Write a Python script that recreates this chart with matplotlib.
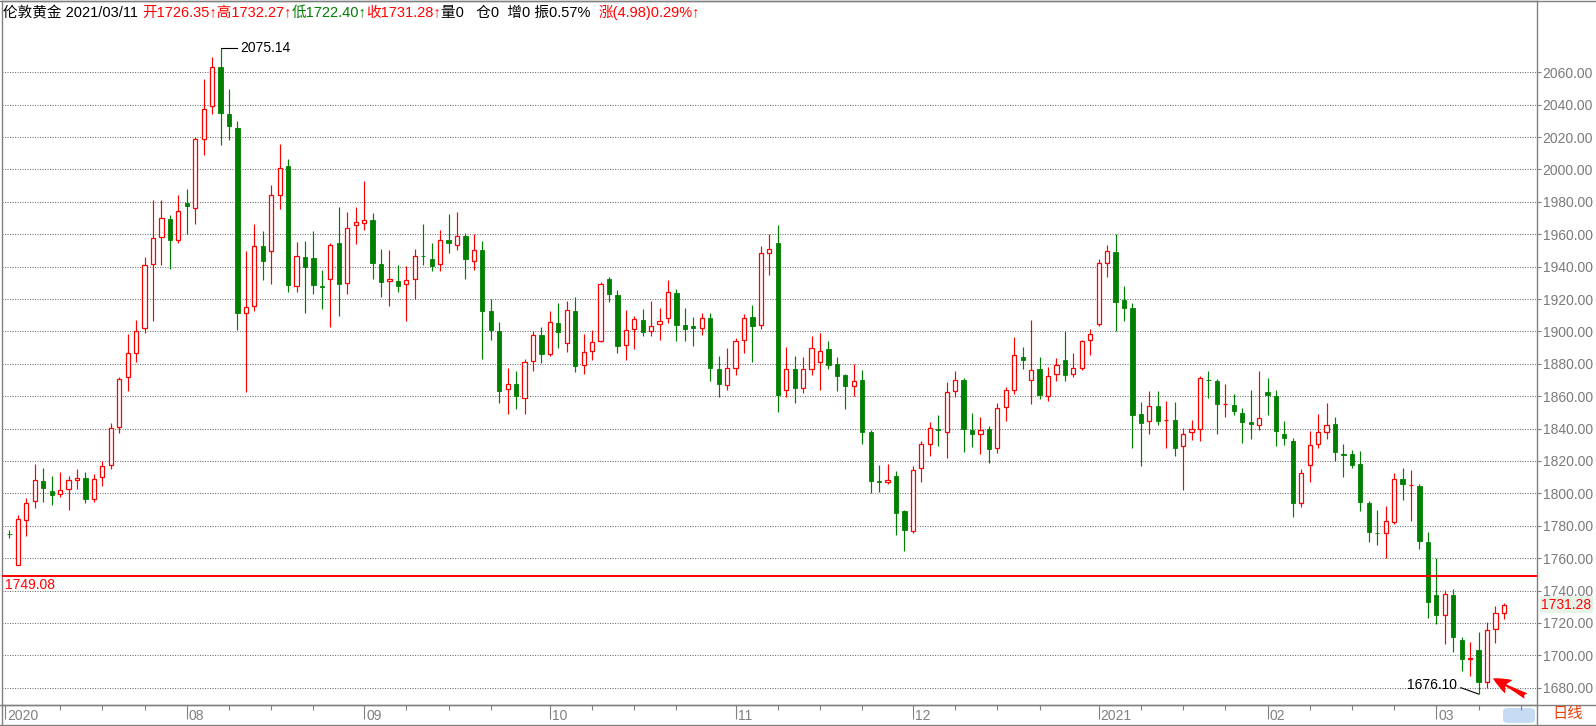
import numpy as np
import matplotlib.pyplot as plt
from matplotlib.offsetbox import TextArea, HPacker, AnchoredOffsetbox
from matplotlib.lines import Line2D
from matplotlib.patches import FancyBboxPatch
from matplotlib.ticker import FormatStrFormatter

plt.rcParams['font.family'] = ['Liberation Sans', 'Noto Sans CJK SC']

## London gold daily candles, 2020/07/03 -> 2021/03/11 (bar index 0..177)
open_ = [1775.0, 1755.6, 1783.4, 1795.2, 1807.5, 1801.4, 1799.5, 1802.7, 1808.1, 1809.4,
         1796.8, 1810.0, 1817.3, 1841.0, 1871.7, 1886.6, 1902.0, 1941.8, 1958.5, 1969.6,
         1956.7, 1979.2, 1976.5, 2018.6, 2039.0, 2063.1, 2034.2, 2025.6, 1911.3, 1915.7,
         1953.0, 1949.9, 1984.5, 2002.1, 1928.2, 1946.2, 1945.6, 1928.0, 1932.4, 1954.8,
         1930.1, 1966.0, 1967.2, 1969.1, 1941.9, 1931.1, 1930.9, 1929.5, 1932.4, 1946.8,
         1944.7, 1941.6, 1956.5, 1953.4, 1959.0, 1943.5, 1950.3, 1912.6, 1900.2, 1864.3,
         1867.4, 1858.8, 1881.6, 1897.7, 1886.0, 1905.2, 1892.8, 1912.6, 1879.2, 1887.8,
         1894.0, 1932.6, 1922.3, 1891.9, 1901.6, 1906.8, 1900.0, 1904.3, 1908.0, 1923.5,
         1903.7, 1903.1, 1901.8, 1908.0, 1876.5, 1867.2, 1877.1, 1895.0, 1908.7, 1903.7,
         1948.2, 1954.6, 1864.1, 1876.5, 1865.3, 1876.5, 1881.4, 1888.9, 1879.6, 1872.8,
         1866.6, 1870.3, 1838.1, 1807.5, 1807.0, 1810.9, 1789.3, 1776.9, 1815.9, 1830.7,
         1840.0, 1838.1, 1862.9, 1870.3, 1839.4, 1836.9, 1840.0, 1828.2, 1853.6, 1864.1,
         1884.5, 1869.7, 1876.5, 1860.4, 1873.4, 1882.1, 1873.4, 1877.7, 1894.4, 1904.3,
         1942.1, 1948.9, 1919.2, 1914.2, 1849.3, 1844.9, 1854.2, 1845.4, 1845.6, 1829.5,
         1838.1, 1840.0, 1870.0, 1869.5, 1855.0, 1854.8, 1849.9, 1844.3, 1842.3, 1862.3,
         1860.4, 1836.9, 1832.4, 1794.0, 1817.5, 1830.5, 1837.9, 1843.1, 1824.3, 1824.5,
         1818.1, 1794.2, 1775.8, 1775.5, 1782.1, 1808.9, 1805.0, 1804.3, 1769.7, 1737.5,
         1724.9, 1737.5, 1709.7, 1697.8, 1703.5, 1683.7, 1716.3, 1726.35]

high = [1777.4, 1786.6, 1797.0, 1818.4, 1815.6, 1810.6, 1813.0, 1810.6, 1815.0, 1813.0,
        1811.9, 1819.8, 1843.5, 1872.0, 1898.1, 1906.9, 1945.8, 1981.1, 1981.1, 1971.7,
        1984.1, 1987.8, 2019.8, 2056.0, 2069.5, 2075.14, 2049.7, 2029.9, 1949.5, 1966.2,
        1962.3, 1990.3, 2015.7, 2006.4, 1955.0, 1955.7, 1961.8, 1937.7, 1954.4, 1976.9,
        1973.6, 1976.9, 1992.8, 1973.0, 1950.7, 1950.1, 1941.2, 1940.6, 1950.9, 1966.6,
        1954.8, 1962.7, 1972.8, 1973.8, 1960.8, 1960.2, 1956.1, 1920.0, 1905.8, 1877.3,
        1875.5, 1883.1, 1900.2, 1902.9, 1912.8, 1917.7, 1919.0, 1921.2, 1898.3, 1900.8,
        1930.7, 1933.8, 1925.4, 1913.0, 1909.3, 1913.6, 1918.5, 1914.2, 1931.5, 1926.0,
        1914.2, 1908.7, 1911.1, 1911.1, 1885.1, 1889.5, 1895.7, 1910.9, 1916.1, 1952.8,
        1960.2, 1965.8, 1890.3, 1884.7, 1883.9, 1897.1, 1899.0, 1893.8, 1884.5, 1874.0,
        1879.8, 1875.9, 1839.0, 1817.7, 1818.3, 1814.0, 1790.0, 1817.1, 1832.6, 1843.9,
        1848.2, 1868.7, 1875.5, 1871.0, 1849.9, 1847.4, 1841.9, 1855.5, 1865.4, 1896.5,
        1890.3, 1907.0, 1884.1, 1878.3, 1883.3, 1900.0, 1886.4, 1894.4, 1901.4, 1944.5,
        1953.4, 1960.0, 1927.8, 1917.3, 1856.7, 1863.5, 1862.9, 1857.3, 1856.7, 1840.6,
        1845.6, 1872.2, 1875.3, 1870.9, 1867.8, 1861.6, 1853.0, 1864.1, 1875.3, 1871.5,
        1864.1, 1844.7, 1834.0, 1815.3, 1838.8, 1848.7, 1855.5, 1847.4, 1830.7, 1827.0,
        1826.4, 1795.0, 1789.9, 1792.0, 1812.6, 1815.9, 1814.4, 1805.8, 1776.1, 1760.0,
        1740.2, 1740.8, 1711.3, 1708.0, 1714.6, 1720.8, 1730.7, 1732.27]

low = [1772.2, 1755.6, 1773.4, 1791.2, 1794.9, 1793.1, 1797.5, 1789.9, 1802.5, 1794.3,
       1794.9, 1804.8, 1814.8, 1837.0, 1863.1, 1880.9, 1898.9, 1906.4, 1941.0, 1938.5,
       1954.4, 1960.2, 1966.5, 2009.2, 2034.4, 2015.3, 2018.3, 1900.8, 1862.5, 1912.6,
       1931.7, 1929.3, 1975.7, 1924.3, 1924.3, 1911.3, 1923.1, 1913.8, 1902.7, 1909.5,
       1923.1, 1954.2, 1962.7, 1932.4, 1921.2, 1915.7, 1924.3, 1906.2, 1920.0, 1941.2,
       1937.1, 1937.1, 1948.2, 1950.1, 1932.2, 1938.1, 1882.7, 1894.4, 1855.5, 1848.9,
       1852.4, 1848.9, 1875.3, 1880.6, 1884.7, 1889.5, 1887.0, 1874.8, 1873.6, 1882.1,
       1893.4, 1918.1, 1886.8, 1882.5, 1889.3, 1897.3, 1897.3, 1894.8, 1905.4, 1894.2,
       1894.2, 1891.1, 1897.9, 1869.5, 1859.2, 1863.9, 1873.2, 1886.8, 1881.2, 1901.6,
       1935.0, 1850.3, 1859.6, 1855.9, 1862.0, 1873.2, 1863.9, 1876.5, 1863.3, 1852.2,
       1860.2, 1830.5, 1800.4, 1800.6, 1805.8, 1774.2, 1764.3, 1775.5, 1807.0, 1823.1,
       1829.3, 1821.9, 1859.6, 1825.6, 1828.7, 1824.3, 1818.8, 1825.0, 1844.7, 1861.4,
       1876.9, 1855.2, 1858.3, 1857.1, 1869.5, 1869.5, 1872.0, 1876.3, 1885.6, 1903.1,
       1933.8, 1900.0, 1906.6, 1827.8, 1816.9, 1836.7, 1842.3, 1827.8, 1823.1, 1802.3,
       1833.0, 1832.4, 1858.6, 1836.5, 1847.0, 1848.2, 1830.9, 1833.4, 1839.0, 1848.2,
       1829.1, 1829.7, 1785.1, 1791.3, 1806.8, 1827.8, 1833.4, 1820.0, 1809.9, 1815.5,
       1788.9, 1769.7, 1768.4, 1760.0, 1780.8, 1795.7, 1782.9, 1765.8, 1723.3, 1719.6,
       1707.0, 1702.1, 1690.3, 1687.2, 1676.10, 1679.8, 1707.6, 1722.40]

close = [1774.6, 1784.1, 1793.9, 1808.1, 1803.1, 1798.7, 1802.1, 1808.1, 1809.4, 1796.8,
         1808.8, 1816.9, 1840.3, 1870.7, 1886.8, 1900.4, 1941.2, 1957.9, 1970.2, 1956.4,
         1974.6, 1977.2, 2018.6, 2037.2, 2063.1, 2035.0, 2027.0, 1911.3, 1915.3, 1953.0,
         1943.5, 1984.5, 2001.2, 1928.7, 1946.8, 1939.8, 1928.7, 1927.6, 1953.6, 1929.3,
         1964.1, 1967.4, 1969.1, 1942.3, 1930.5, 1932.6, 1928.0, 1931.5, 1946.6, 1946.6,
         1940.2, 1956.5, 1954.4, 1959.0, 1944.5, 1950.3, 1912.4, 1900.6, 1863.5, 1867.4,
         1860.4, 1881.0, 1897.7, 1886.0, 1905.8, 1899.6, 1913.2, 1878.6, 1887.2, 1893.4,
         1929.3, 1922.9, 1891.1, 1901.0, 1907.8, 1899.4, 1903.5, 1906.2, 1924.1, 1904.1,
         1901.6, 1902.3, 1908.0, 1877.5, 1867.6, 1877.7, 1893.8, 1908.0, 1903.5, 1948.2,
         1950.7, 1860.8, 1876.5, 1865.1, 1876.5, 1889.5, 1887.6, 1879.0, 1872.2, 1866.6,
         1869.1, 1838.1, 1807.8, 1807.2, 1808.0, 1787.8, 1777.3, 1814.6, 1830.7, 1840.6,
         1839.4, 1862.3, 1870.3, 1839.8, 1836.9, 1839.4, 1827.4, 1853.0, 1864.1, 1885.2,
         1882.1, 1876.3, 1860.8, 1872.2, 1879.0, 1873.2, 1877.7, 1893.8, 1898.1, 1942.1,
         1949.5, 1918.3, 1914.2, 1848.4, 1843.5, 1854.2, 1844.7, 1845.6, 1828.0, 1836.9,
         1840.0, 1871.5, 1869.7, 1855.0, 1855.3, 1850.7, 1843.9, 1842.7, 1846.6, 1860.6,
         1838.3, 1834.0, 1793.8, 1812.6, 1829.9, 1838.1, 1842.3, 1825.4, 1823.7, 1817.3,
         1794.4, 1775.9, 1775.5, 1782.9, 1808.9, 1805.6, 1805.2, 1770.7, 1733.0, 1724.9,
         1738.1, 1711.3, 1697.7, 1698.1, 1683.5, 1715.9, 1726.4, 1731.28]

month_labels = ['2020', '08', '09', '10', '11', '12', '2021', '02', '03']
month_pos = [-0.5, 21, 42, 64, 86, 107, 129, 149, 169]

ref_line = 1749.08
top_idx, top_price = 25, 2075.14
bot_idx, bot_price = 174, 1676.10

header = [("伦敦黄金 2021/03/11 ", 'black'),
          ("开1726.35↑高1732.27↑", 'red'),
          ("低1722.40↑", 'green'),
          ("收1731.28↑", 'red'),
          ("量0   仓0  增0 振0.57%  ", 'black'),
          ("涨(4.98)0.29%↑", 'red')]

open_ = np.array(open_)
high = np.array(high)
low = np.array(low)
close = np.array(close)
x = np.arange(len(close))
up = close >= open_

RED = '#FF0000'
GREEN = '#008000'
GREY = '#808080'

W, H = 1596, 726
fig = plt.figure(figsize=(W / 100, H / 100), dpi=100)
ax = fig.add_axes([2 / W, 21 / H, 1535 / W, 704.5 / H])
ax.set_xlim(-0.888, 180.92)
ax.set_ylim(1669.32, 2104.33)

## wicks first, bodies on top (hollow red up bars, solid green down bars)
ax.vlines(x, low, high, colors=np.where(up, RED, GREEN), lw=0.85, zorder=2)
ax.bar(x[up], close[up] - open_[up], bottom=open_[up], width=0.5,
       facecolor='white', edgecolor=RED, lw=0.9, zorder=3)
ax.bar(x[~up], close[~up] - open_[~up], bottom=open_[~up], width=0.5,
       facecolor=GREEN, edgecolor=GREEN, lw=0.6, zorder=3)

## price grid + right axis
ax.set_yticks(np.arange(1680, 2061, 20))
ax.yaxis.set_major_formatter(FormatStrFormatter('%.2f'))
ax.yaxis.tick_right()
ax.grid(axis='y', color='#707070', linestyle=(0, (1, 1.4)), lw=0.75)
ax.tick_params(axis='y', length=3, width=0.8, color=GREY, labelcolor='#7a7a7a',
               labelsize=10, pad=1)

## month ticks along the bottom
week_pos = []
starts = [1] + month_pos[1:]
ends = month_pos[1:] + [182]
for s, e in zip(starts, ends):
    t = s + 5
    while e - t >= 3:
        week_pos.append(t)
        t += 5
ax.set_xticks(month_pos)
ax.set_xticks(week_pos, minor=True)
ax.tick_params(axis='x', which='major', length=10, width=0.8, color=GREY, labelbottom=False)
ax.tick_params(axis='x', which='minor', length=3.5, width=0.8, color=GREY)
for p, lab in zip(month_pos, month_labels):
    ax.annotate(lab, xy=(p, 0), xycoords=('data', 'axes fraction'), xytext=(2, -11),
                textcoords='offset pixels', ha='left', va='center', fontsize=10, color=GREY)

for s in ax.spines.values():
    s.set_color(GREY)
    s.set_linewidth(1)

## red reference line
ax.axhline(ref_line, color=RED, lw=1.4, zorder=4)
ax.annotate('%.2f' % ref_line, xy=(0, ref_line), xycoords=('axes fraction', 'data'),
            xytext=(3, -9), textcoords='offset pixels', ha='left', va='center',
            fontsize=10, color=RED)

## last close on price axis
ax.annotate('%.2f' % close[-1], xy=(1, close[-1]), xycoords=('axes fraction', 'data'),
            xytext=(4, 0), textcoords='offset pixels', ha='left', va='center',
            fontsize=10, color=RED,
            bbox=dict(facecolor='#E8F3E8', edgecolor='none', pad=1))

## high / low marks
ax.plot([top_idx, top_idx + 2.0], [top_price, top_price], color='black', lw=0.8, zorder=4)
ax.text(top_idx + 2.3, top_price, '%.2f' % top_price, ha='left', va='center', fontsize=10)
ax.plot([bot_idx - 2.1, bot_idx], [1680.0, bot_price], color='black', lw=0.8, zorder=4)
ax.text(bot_idx - 2.55, 1681.7, '%.2f' % bot_price, ha='right', va='center', fontsize=10)

## red arrow pointing at the last low
ax.annotate('', xy=(175.7, 1685.8), xytext=(179.6, 1674.9),
            arrowprops=dict(arrowstyle='fancy,head_length=1.3,head_width=1.1,tail_width=0.45',
                            color=RED, lw=0, shrinkA=0, shrinkB=0),
            annotation_clip=False, zorder=5)

## header line
parts = [TextArea(t, textprops=dict(color=c, fontsize=10.5)) for t, c in header]
box = HPacker(children=parts, align='baseline', pad=0, sep=0)
anch = AnchoredOffsetbox(loc='upper left', child=box, pad=0, borderpad=0, frameon=False,
                         bbox_to_anchor=(3 / W, 1 - 5 / H), bbox_transform=fig.transFigure)
fig.add_artist(anch)

## frame pieces outside the axes
fig.add_artist(Line2D([0, 1], [21 / H, 21 / H], transform=fig.transFigure, color=GREY, lw=1))
fig.add_artist(Line2D([0, 1], [0.7 / H, 0.7 / H], transform=fig.transFigure, color=GREY, lw=1))
fig.add_artist(Line2D([0, 1], [1 - 0.5 / H, 1 - 0.5 / H], transform=fig.transFigure, color=GREY, lw=1))
fig.add_artist(Line2D([1537 / W, 1537 / W], [0, 21 / H], transform=fig.transFigure, color=GREY, lw=1))
fig.add_artist(Line2D([2 / W, 2 / W], [0, 21 / H], transform=fig.transFigure, color=GREY, lw=1))
fig.add_artist(FancyBboxPatch((1503 / W, 3 / H), 32 / W, 15 / H, transform=fig.transFigure,
                              boxstyle='round,pad=0,rounding_size=0.004',
                              facecolor='#C6DCF5', edgecolor='none', zorder=-1))
fig.text(1552 / W, 1 - 714 / H, '日线', color='#E8400C', fontsize=11, ha='left', va='center')

fig.savefig('out.png', dpi=100)
